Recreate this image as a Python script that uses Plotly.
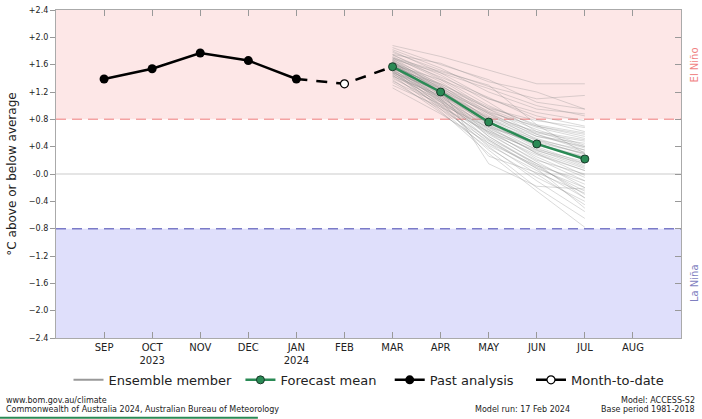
import plotly.graph_objects as go

months = ["SEP", "OCT<br>2023", "NOV", "DEC", "JAN<br>2024", "FEB",
          "MAR", "APR", "MAY", "JUN", "JUL", "AUG"]

past_x = [0, 1, 2, 3, 4]
past_y = [1.39, 1.54, 1.77, 1.66, 1.39]

mtd_x = [4, 5, 6]
mtd_y = [1.39, 1.32, 1.57]

fc_x = [6, 7, 8, 9, 10]
fc_mean = [1.57, 1.20, 0.76, 0.44, 0.22]

# ensemble members, MAR..JUL
ensemble = [
    [1.88, 1.72, 1.52, 1.32, 1.32],
    [1.85, 1.60, 1.38, 1.05, 0.95],
    [1.82, 1.55, 1.20, 0.95, 0.88],
    [1.80, 1.48, 1.10, 0.85, 0.70],
    [1.78, 1.52, 1.28, 1.10, 1.15],
    [1.75, 1.40, 1.00, 0.70, 0.55],
    [1.74, 1.45, 1.05, 0.62, 0.40],
    [1.72, 1.38, 0.95, 0.58, 0.35],
    [1.70, 1.30, 0.88, 0.50, 0.28],
    [1.70, 1.42, 1.12, 0.80, 0.62],
    [1.68, 1.25, 0.72, 0.35, 0.10],
    [1.67, 1.35, 0.90, 0.55, 0.45],
    [1.66, 1.28, 0.80, 0.45, 0.20],
    [1.65, 1.20, 0.70, 0.30, 0.05],
    [1.64, 1.32, 0.98, 0.72, 0.60],
    [1.63, 1.22, 0.78, 0.40, 0.15],
    [1.62, 1.18, 0.65, 0.22, -0.10],
    [1.62, 1.30, 0.85, 0.62, 0.50],
    [1.61, 1.15, 0.60, 0.18, -0.20],
    [1.60, 1.24, 0.82, 0.48, 0.30],
    [1.60, 1.10, 0.55, 0.12, -0.30],
    [1.59, 1.26, 0.92, 0.65, 0.42],
    [1.58, 1.20, 0.75, 0.38, 0.12],
    [1.58, 1.05, 0.45, 0.00, -0.45],
    [1.57, 1.28, 0.96, 0.78, 0.68],
    [1.56, 1.12, 0.68, 0.30, -0.02],
    [1.56, 1.22, 0.80, 0.52, 0.32],
    [1.55, 1.00, 0.40, -0.10, -0.55],
    [1.55, 1.18, 0.72, 0.42, 0.25],
    [1.54, 1.25, 0.88, 0.60, 0.48],
    [1.53, 1.08, 0.62, 0.25, -0.05],
    [1.52, 1.16, 0.76, 0.45, 0.22],
    [1.52, 0.95, 0.35, -0.20, -0.65],
    [1.51, 1.20, 0.84, 0.58, 0.38],
    [1.50, 1.10, 0.66, 0.36, 0.18],
    [1.50, 1.02, 0.50, 0.10, -0.25],
    [1.49, 1.14, 0.74, 0.50, 0.35],
    [1.48, 0.98, 0.42, 0.05, -0.35],
    [1.48, 1.22, 0.90, 0.70, 0.58],
    [1.47, 1.06, 0.58, 0.20, 0.00],
    [1.46, 1.12, 0.70, 0.44, 0.26],
    [1.45, 0.92, 0.30, -0.25, -0.78],
    [1.44, 1.08, 0.64, 0.32, 0.08],
    [1.43, 1.15, 0.82, 0.55, 0.40],
    [1.42, 1.00, 0.52, 0.15, -0.15],
    [1.40, 1.05, 0.60, 0.28, 0.05],
    [1.38, 0.90, 0.38, -0.05, -0.40],
    [1.36, 1.02, 0.68, 0.46, 0.30],
    [1.34, 0.95, 0.48, 0.08, -0.20],
    [1.30, 0.98, 0.62, 0.34, 0.15],
    [1.26, 0.88, 0.45, 0.12, -0.10],
    [1.75, 1.62, 1.35, 1.20, 0.95],
    [1.68, 1.48, 1.25, 1.00, 0.85],
    [1.60, 1.38, 1.10, 0.90, 0.78],
    [1.54, 1.32, 0.95, 0.68, 0.52],
    [1.62, 1.16, 0.55, 0.15, -0.35],
    [1.66, 1.10, 0.50, 0.08, -0.50],
    [1.58, 1.08, 0.26, 0.02, -0.28],
    [1.64, 1.26, 0.15, -0.18, -0.22],
    [1.70, 1.50, 1.30, 0.72, 0.30],
]

yticks = [2.4, 2.0, 1.6, 1.2, 0.8, 0.4, 0.0, -0.4, -0.8, -1.2, -1.6, -2.0, -2.4]
ytext = ["+2.4", "+2.0", "+1.6", "+1.2", "+0.8", "+0.4", "-0.0",
         "\u22120.4", "\u22120.8", "\u22121.2", "\u22121.6", "\u22122.0", "\u22122.4"]

green = "#2a8a55"
font = "DejaVu Sans, Liberation Sans, sans-serif"
pad = "\u00a0"

fig = go.Figure()

for member in ensemble:
    fig.add_trace(go.Scatter(
        x=fc_x, y=member, mode="lines", showlegend=False, hoverinfo="skip",
        line=dict(color="rgba(140,140,140,0.32)", width=1)
    ))

# legend entries
fig.add_trace(go.Scatter(
    x=[None], y=[None], mode="lines", name="Ensemble member" + pad,
    line=dict(color="#999999", width=2)
))
fig.add_trace(go.Scatter(
    x=fc_x, y=fc_mean, mode="lines+markers", name="Forecast mean" + pad * 2,
    line=dict(color=green, width=2.5),
    marker=dict(color=green, size=8, line=dict(color="#1a3a2a", width=1))
))
fig.add_trace(go.Scatter(
    x=past_x, y=past_y, mode="lines+markers", name="Past analysis" + pad * 3,
    line=dict(color="black", width=2.5),
    marker=dict(color="black", size=9)
))
fig.add_trace(go.Scatter(
    x=mtd_x, y=mtd_y, mode="lines", showlegend=False,
    line=dict(color="black", width=2.5, dash="11px,9px")
))
fig.add_trace(go.Scatter(
    x=[mtd_x[1]], y=[mtd_y[1]], mode="lines+markers", name="Month-to-date",
    line=dict(color="black", width=2.5),
    marker=dict(color="white", size=8, line=dict(color="black", width=1.2))
))

# El Nino / La Nina bands
fig.add_hrect(y0=0.8, y1=2.4, fillcolor="#fde7e7", line_width=0, layer="below")
fig.add_hrect(y0=-2.4, y1=-0.8, fillcolor="#dfdffb", line_width=0, layer="below")
fig.add_hline(y=0.8, line=dict(color="#f4a3a3", width=1.5, dash="10px,6px"), layer="below")
fig.add_hline(y=-0.8, line=dict(color="#7b7bc8", width=1.5, dash="10px,6px"), layer="below")
fig.add_hline(y=0.0, line=dict(color="#cccccc", width=1.2), layer="below")

fig.add_annotation(x=1.01, y=1.6, xref="paper", yref="y", text="El Niño",
                   textangle=-90, showarrow=False, xanchor="left",
                   font=dict(size=10, color="#f07f7f", family=font))
fig.add_annotation(x=1.01, y=-1.6, xref="paper", yref="y", text="La Niña",
                   textangle=-90, showarrow=False, xanchor="left",
                   font=dict(size=10, color="#7f7fc0", family=font))

# footer
foot = dict(size=8, color="#222222", family=font)
fig.add_annotation(x=-0.084, y=-0.19, xref="paper", yref="paper", text="www.bom.gov.au/climate",
                   showarrow=False, xanchor="left", yanchor="middle", font=foot)
fig.add_annotation(x=-0.084, y=-0.218, xref="paper", yref="paper",
                   text="Commonwealth of Australia 2024, Australian Bureau of Meteorology",
                   showarrow=False, xanchor="left", yanchor="middle", font=foot)
fig.add_annotation(x=0.826, y=-0.218, xref="paper", yref="paper", text="Model run: 17 Feb 2024",
                   showarrow=False, xanchor="right", yanchor="middle", font=foot)
fig.add_annotation(x=1.026, y=-0.19, xref="paper", yref="paper", text="Model: ACCESS-S2",
                   showarrow=False, xanchor="right", yanchor="middle", font=foot)
fig.add_annotation(x=1.026, y=-0.218, xref="paper", yref="paper", text="Base period 1981-2018",
                   showarrow=False, xanchor="right", yanchor="middle", font=foot)
fig.add_shape(type="line", xref="paper", yref="paper", x0=-0.09, x1=0.323, y0=-0.243, y1=-0.243,
              line=dict(color=green, width=2))

fig.update_layout(
    width=702, height=419,
    margin=dict(l=56, r=21, t=10, b=81, autoexpand=False),
    plot_bgcolor="white", paper_bgcolor="white",
    font=dict(family=font, color="#222222"),
    showlegend=True,
    legend=dict(orientation="h", x=0.5008, xanchor="center", y=-0.082, yanchor="top",
                font=dict(size=13), bgcolor="rgba(0,0,0,0)", tracegroupgap=0),
    xaxis=dict(
        range=[-1, 12], tickvals=list(range(12)), ticktext=months,
        ticks="inside", ticklen=6, tickcolor="#999999", mirror="ticks",
        showline=True, linecolor="#aaaaaa", linewidth=1.2, showgrid=False, zeroline=False,
        tickfont=dict(size=10), automargin=False
    ),
    yaxis=dict(
        range=[-2.4, 2.4], tickvals=yticks, ticktext=ytext,
        ticks="outside", ticklen=5, tickcolor="#999999",
        showline=True, linecolor="#aaaaaa", linewidth=1.2, mirror=True,
        showgrid=False, zeroline=False, tickfont=dict(size=8), automargin=False,
        title=dict(text="\u00b0C above or below average", font=dict(size=12), standoff=9)
    ),
    yaxis2=dict(
        range=[-2.4, 2.4], overlaying="y", side="right", tickvals=yticks,
        ticks="inside", ticklen=6, tickcolor="#999999", showticklabels=False,
        showgrid=False, zeroline=False, showline=False, automargin=False
    ),
)

# dummy trace to show the right-hand ticks
fig.add_trace(go.Scatter(x=[None], y=[None], yaxis="y2", showlegend=False))

# drop the default page margin so the figure sits at the window's corner
fig.write_html("out.html", config={"displayModeBar": False},
               post_script="document.body.style.margin='0';")
